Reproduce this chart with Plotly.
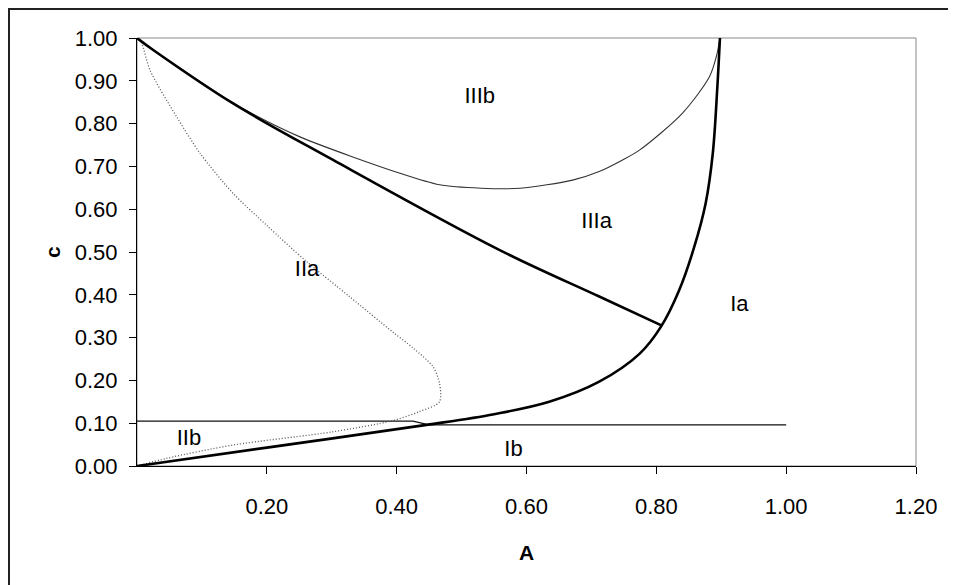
import plotly.graph_objects as go

# ---- data ----
# boundary III (thick) : from (0,1) down to junction with Ia boundary
b3_A = [0.0, 0.025, 0.148, 0.302, 0.558, 0.712, 0.807]
b3_c = [1.0, 0.972, 0.847, 0.715, 0.505, 0.396, 0.329]

# IIIb boundary (thin)
b3b_A = [0.0, 0.025, 0.148, 0.164, 0.251, 0.405, 0.466, 0.53, 0.59, 0.671, 0.712, 0.748, 0.774, 0.84, 0.882, 0.893, 0.898]
b3b_c = [1.0, 0.972, 0.848, 0.834, 0.769, 0.684, 0.657, 0.649, 0.649, 0.668, 0.688, 0.715, 0.738, 0.824, 0.91, 0.96, 1.0]

# Ia boundary (thick)
b1_A = [0.0, 0.2, 0.446, 0.55, 0.635, 0.712, 0.774, 0.807, 0.835, 0.858, 0.876, 0.887, 0.894, 0.898]
b1_c = [0.0, 0.043, 0.096, 0.121, 0.150, 0.197, 0.262, 0.325, 0.41, 0.51, 0.614, 0.731, 0.886, 1.0]

# IIa boundary (dotted)
b2_A = [0.0, 0.007, 0.02, 0.061, 0.097, 0.148, 0.2, 0.261, 0.328, 0.394, 0.425, 0.456, 0.466, 0.466, 0.435, 0.394, 0.302, 0.148, 0.046, 0.0]
b2_c = [1.0, 0.988, 0.925, 0.816, 0.731, 0.637, 0.562, 0.478, 0.395, 0.313, 0.276, 0.232, 0.193, 0.150, 0.127, 0.106, 0.080, 0.049, 0.018, 0.0]

# horizontal boundary (thin)
h_A = [0.0, 0.425, 0.45, 1.0]
h_c = [0.105, 0.105, 0.096, 0.096]

# region labels
lab_text = ["IIIb", "IIIa", "IIa", "Ia", "IIb", "Ib"]
lab_A = [0.528, 0.708, 0.262, 0.928, 0.08, 0.58]
lab_c = [0.862, 0.57, 0.456, 0.376, 0.063, 0.037]

x_ticks = [0.2, 0.4, 0.6, 0.8, 1.0, 1.2]
x_ticktext = ["0.20", "0.40", "0.60", "0.80", "1.00", "1.20"]
y_ticks = [0.0, 0.1, 0.2, 0.3, 0.4, 0.5, 0.6, 0.7, 0.8, 0.9, 1.0]
y_ticktext = ["0.00", "0.10", "0.20", "0.30", "0.40", "0.50", "0.60", "0.70", "0.80", "0.90", "1.00"]

FONT = "Arial, Liberation Sans, sans-serif"

fig = go.Figure()
fig.add_trace(go.Scatter(x=h_A, y=h_c, mode="lines", line=dict(color="#111", width=1.2)))
fig.add_trace(go.Scatter(x=b2_A, y=b2_c, mode="lines", line=dict(color="#555", width=1.3, dash="1px,2px", shape="spline", smoothing=0.8)))
fig.add_trace(go.Scatter(x=b3b_A, y=b3b_c, mode="lines", line=dict(color="#333", width=1.1, shape="spline", smoothing=0.8)))
fig.add_trace(go.Scatter(x=b3_A, y=b3_c, mode="lines", line=dict(color="#000", width=2.6, shape="spline", smoothing=1.0)))
fig.add_trace(go.Scatter(x=b1_A, y=b1_c, mode="lines", line=dict(color="#000", width=2.6, shape="spline", smoothing=1.0)))
fig.add_trace(go.Scatter(x=lab_A, y=lab_c, mode="text", text=lab_text,
                         textfont=dict(family=FONT, size=22, color="#000"), textposition="middle center"))

# the page has an 8px body margin; figure is sized so the plot area lands where the reference has it
L, R, T, B = 129, 40, 30, 119
W, H = 948, 577
pw, ph = W - L - R, H - T - B

fig.update_layout(
    width=W, height=H,
    margin=dict(l=L, r=R, t=T, b=B, pad=0),
    paper_bgcolor="white", plot_bgcolor="white",
    showlegend=False,
    font=dict(family=FONT, size=21, color="#000"),
    xaxis=dict(range=[0, 1.2], tickvals=x_ticks, ticktext=x_ticktext,
               showgrid=False, zeroline=False, showline=True, linecolor="#000", linewidth=1,
               ticks="outside", ticklen=7, tickcolor="#000", tickwidth=1,
               ticklabelstandoff=14, tickfont=dict(family=FONT, size=22, color="#000")),
    yaxis=dict(range=[0, 1.0], tickvals=y_ticks, ticktext=y_ticktext,
               showgrid=False, zeroline=False, showline=True, linecolor="#000", linewidth=1,
               ticks="outside", ticklen=7, tickcolor="#000", tickwidth=1,
               ticklabelstandoff=7, tickfont=dict(family=FONT, size=22, color="#000")),
    shapes=[
        dict(type="rect", xref="paper", yref="paper", x0=0, y0=0, x1=1, y1=1,
             line=dict(color="#888", width=1), layer="below"),
        dict(type="rect", xref="paper", yref="paper",
             x0=(1 - L) / pw, x1=(W + 10 - L) / pw,
             y0=(H - B - H - 10) / ph, y1=(H - B - 1) / ph,
             line=dict(color="#222", width=2)),
    ],
    annotations=[
        dict(text="<b>A</b>", xref="paper", yref="paper", x=0.5, y=0, xanchor="center", yanchor="middle",
             yshift=-86, showarrow=False, font=dict(family=FONT, size=21, color="#000")),
        dict(text="<b>c</b>", xref="paper", yref="paper", x=0, y=0.5, xanchor="center", yanchor="middle",
             xshift=-85, textangle=-90, showarrow=False, font=dict(family=FONT, size=21, color="#000")),
    ],
)

fig.write_html("out.html")
